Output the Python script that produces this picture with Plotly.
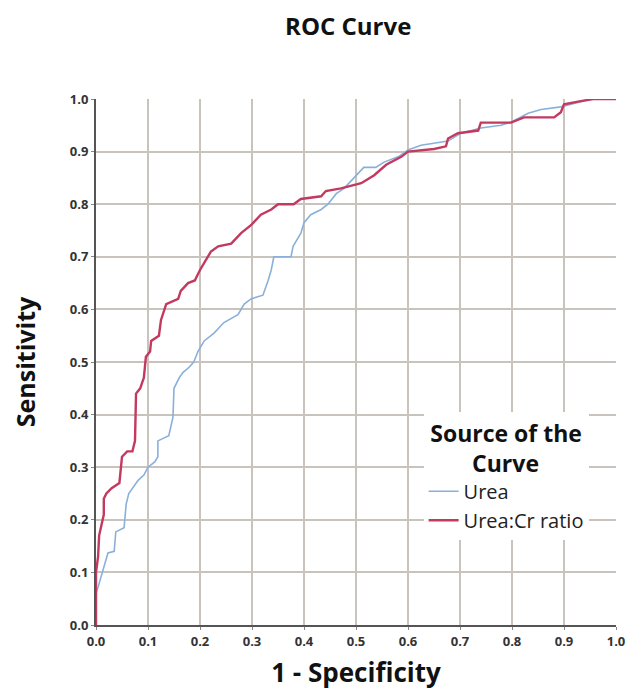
import plotly.graph_objects as go

# Urea curve (1 - specificity, sensitivity)
urea_fpr = [0.0, 0.0, 0.004, 0.015, 0.023, 0.035, 0.038, 0.054, 0.058, 0.063, 0.081, 0.092,
            0.1, 0.113, 0.119, 0.119, 0.14, 0.148, 0.15, 0.16, 0.167, 0.179, 0.188, 0.196,
            0.208, 0.227, 0.246, 0.273, 0.285, 0.298, 0.321, 0.331, 0.337, 0.342, 0.375,
            0.379, 0.385, 0.394, 0.4, 0.413, 0.433, 0.446, 0.462, 0.477, 0.496, 0.515,
            0.538, 0.554, 0.581, 0.6, 0.625, 0.65, 0.677, 0.702, 0.74, 0.779, 0.798,
            0.831, 0.856, 0.894, 0.927, 0.952, 1.0]
urea_tpr = [0.0, 0.06, 0.072, 0.11, 0.137, 0.14, 0.177, 0.185, 0.23, 0.25, 0.275, 0.285,
            0.30, 0.31, 0.32, 0.35, 0.36, 0.395, 0.45, 0.47, 0.48, 0.49, 0.50, 0.52,
            0.54, 0.555, 0.575, 0.59, 0.61, 0.62, 0.627, 0.655, 0.675, 0.70, 0.70,
            0.72, 0.73, 0.745, 0.765, 0.78, 0.79, 0.80, 0.82, 0.83, 0.85, 0.87,
            0.87, 0.88, 0.89, 0.903, 0.912, 0.916, 0.92, 0.935, 0.945, 0.95, 0.956,
            0.973, 0.98, 0.985, 0.994, 1.0, 1.0]

# Urea:Cr ratio curve
ratio_fpr = [0.0, 0.0, 0.004, 0.006, 0.015, 0.015, 0.02, 0.03, 0.045, 0.05, 0.05, 0.06,
             0.07, 0.075, 0.077, 0.085, 0.092, 0.096, 0.104, 0.106, 0.121, 0.125, 0.135,
             0.158, 0.163, 0.177, 0.19, 0.2, 0.221, 0.235, 0.26, 0.279, 0.298, 0.317,
             0.337, 0.35, 0.38, 0.394, 0.433, 0.442, 0.471, 0.51, 0.535, 0.558, 0.587,
             0.6, 0.625, 0.65, 0.673, 0.677, 0.696, 0.735, 0.74, 0.798, 0.823, 0.881,
             0.894, 0.9, 0.927, 0.956, 1.0]
ratio_tpr = [0.0, 0.10, 0.13, 0.17, 0.21, 0.24, 0.25, 0.26, 0.27, 0.31, 0.32, 0.33,
             0.33, 0.35, 0.44, 0.45, 0.47, 0.51, 0.52, 0.54, 0.55, 0.58, 0.61,
             0.62, 0.635, 0.65, 0.655, 0.675, 0.71, 0.72, 0.725, 0.745, 0.76, 0.78,
             0.79, 0.80, 0.80, 0.81, 0.815, 0.825, 0.83, 0.84, 0.855, 0.875, 0.89,
             0.90, 0.902, 0.905, 0.91, 0.925, 0.935, 0.94, 0.955, 0.955, 0.965, 0.965,
             0.975, 0.99, 0.995, 1.0, 1.0]

tick_vals = [0.0, 0.1, 0.2, 0.3, 0.4, 0.5, 0.6, 0.7, 0.8, 0.9, 1.0]

FONT = "Open Sans, Noto Sans, DejaVu Sans, sans-serif"

fig = go.Figure()
fig.add_trace(go.Scatter(x=urea_fpr, y=urea_tpr, mode="lines", name="Urea",
                         line=dict(color="#8ab0da", width=1.6)))
fig.add_trace(go.Scatter(x=ratio_fpr, y=ratio_tpr, mode="lines", name="Urea:Cr ratio",
                         line=dict(color="#c23a5f", width=2.4)))

axis_common = dict(
    range=[0, 1], tickvals=tick_vals, tickformat=".1f",
    showgrid=True, gridcolor="#c9c3bd", gridwidth=1.5,
    zeroline=False, showline=True, linecolor="#555555", linewidth=2,
    ticks="outside", ticklen=3, tickcolor="#888888",
    tickfont=dict(family=FONT, size=13, color="#333333", weight="bold"),
    fixedrange=True,
)

fig.update_layout(
    width=643, height=691,
    margin=dict(l=88, r=35, t=91, b=74),
    paper_bgcolor="white", plot_bgcolor="white",
    title=dict(text="<b>ROC Curve</b>", x=0.485, xanchor="center", xref="paper",
               y=0.9725, yanchor="middle",
               font=dict(family=FONT, size=24, color="#111111")),
    xaxis=dict(**axis_common,
               title=dict(text="<b>1 - Specificity</b>", standoff=15,
                          font=dict(family=FONT, size=26, color="#111111"))),
    yaxis=dict(**axis_common,
               title=dict(text="<b>Sensitivity</b>", standoff=27,
                          font=dict(family=FONT, size=25, color="#111111"))),
    legend=dict(
        x=0.63, y=0.405, xanchor="left", yanchor="top",
        bgcolor="white", borderwidth=0,
        title=dict(text="<b>Source of the<br>&nbsp;&nbsp;&nbsp;&nbsp;&nbsp;&nbsp;&nbsp;Curve</b>",
                   side="top center",
                   font=dict(family=FONT, size=23, color="#111111")),
        font=dict(family=FONT, size=20, color="#222222"),
        tracegroupgap=0, itemwidth=30,
    ),
    showlegend=True,
)

fig.write_html("out.html")
